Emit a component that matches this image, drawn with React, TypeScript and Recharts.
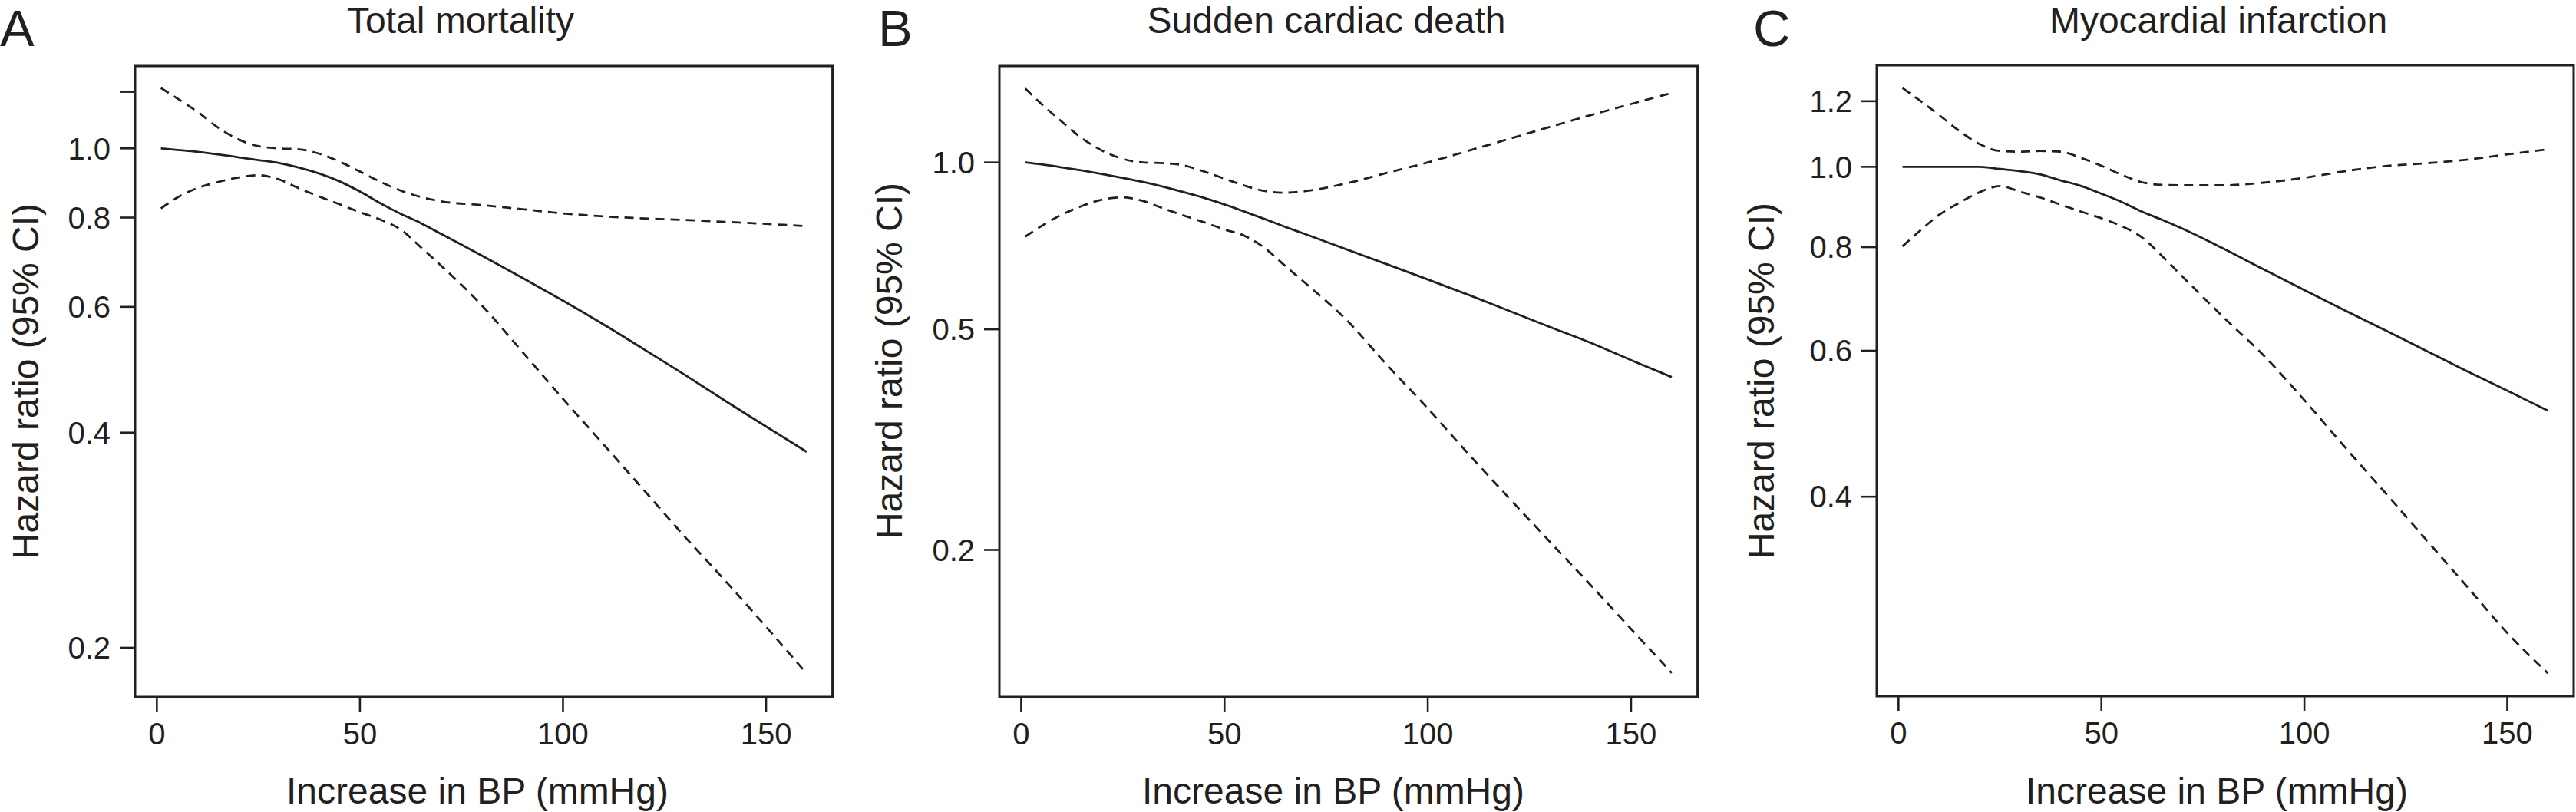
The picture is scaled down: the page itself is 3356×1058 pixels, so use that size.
import React from 'react';
import { LineChart, Line, XAxis, YAxis, ReferenceArea } from 'recharts';

// ---- data ----
const bpIncrease = [1, 5, 10, 15, 20, 25, 30, 35, 40, 45, 50, 55, 60, 65, 70, 80, 90, 100, 110, 120, 130, 140, 150, 160];

const totalHR = [1.0, 0.995, 0.989, 0.981, 0.972, 0.963, 0.954, 0.94, 0.922, 0.899, 0.87, 0.838, 0.81, 0.786, 0.759, 0.708, 0.659, 0.612, 0.567, 0.523, 0.482, 0.443, 0.408, 0.376];
const totalLower = [0.824, 0.853, 0.88, 0.897, 0.91, 0.917, 0.905, 0.879, 0.856, 0.835, 0.814, 0.795, 0.77, 0.727, 0.685, 0.603, 0.519, 0.446, 0.385, 0.332, 0.286, 0.248, 0.214, 0.184];
const totalUpper = [1.215, 1.175, 1.125, 1.07, 1.03, 1.007, 1.0, 0.997, 0.983, 0.958, 0.928, 0.898, 0.873, 0.855, 0.843, 0.833, 0.822, 0.811, 0.803, 0.798, 0.794, 0.789, 0.784, 0.778];

const suddenHR = [1.0, 0.992, 0.98, 0.967, 0.953, 0.938, 0.922, 0.904, 0.884, 0.863, 0.84, 0.815, 0.79, 0.765, 0.742, 0.697, 0.655, 0.615, 0.577, 0.54, 0.505, 0.473, 0.44, 0.41];
const suddenLower = [0.735, 0.768, 0.805, 0.835, 0.857, 0.865, 0.852, 0.826, 0.802, 0.78, 0.757, 0.737, 0.7, 0.65, 0.605, 0.52, 0.431, 0.36, 0.298, 0.248, 0.207, 0.173, 0.144, 0.12];
const suddenUpper = [1.36, 1.275, 1.185, 1.105, 1.05, 1.015, 1.0, 0.997, 0.988, 0.963, 0.935, 0.908, 0.888, 0.882, 0.888, 0.917, 0.958, 1.0, 1.05, 1.103, 1.159, 1.217, 1.275, 1.335];

const miHR = [1.0, 1.0, 1.0, 1.0, 1.0, 0.994, 0.988, 0.979, 0.963, 0.948, 0.928, 0.907, 0.883, 0.863, 0.842, 0.797, 0.752, 0.71, 0.671, 0.635, 0.6, 0.567, 0.537, 0.508];
const miLower = [0.802, 0.835, 0.875, 0.905, 0.932, 0.948, 0.933, 0.918, 0.9, 0.883, 0.867, 0.848, 0.822, 0.78, 0.737, 0.659, 0.592, 0.523, 0.459, 0.404, 0.355, 0.312, 0.274, 0.245];
const miUpper = [1.245, 1.205, 1.155, 1.105, 1.065, 1.045, 1.043, 1.045, 1.043, 1.025, 1.003, 0.978, 0.958, 0.951, 0.95, 0.95, 0.957, 0.97, 0.988, 1.002, 1.01, 1.02, 1.035, 1.05];

const xTicks = [0, 50, 100, 150];
const totalTicks = [0.2, 0.4, 0.6, 0.8, 1.0, 1.2];
const totalTickLabels = ['0.2', '0.4', '0.6', '0.8', '1.0', ''];
const suddenTicks = [0.2, 0.5, 1.0];
const suddenTickLabels = ['0.2', '0.5', '1.0'];
const miTicks = [0.4, 0.6, 0.8, 1.0, 1.2];
const miTickLabels = ['0.4', '0.6', '0.8', '1.0', '1.2'];

const panelLetters = ['A', 'B', 'C'];
const panelTitles = ['Total mortality', 'Sudden cardiac death', 'Myocardial infarction'];
const yLabel = 'Hazard ratio (95% CI)';
const xLabel = 'Increase in BP (mmHg)';

// ---- styling ----
const INK = '#231f20';
const FONT = '"Liberation Sans", Arial, Helvetica, sans-serif';
const X_DOMAIN: [number, number] = [-5.36, 166.36];

function rows(hr: number[], lo: number[], hi: number[]) {
  return bpIncrease.map((x, i) => ({ x, hr: hr[i], lo: lo[i], hi: hi[i] }));
}

type PanelProps = {
  data: { x: number; hr: number; lo: number; hi: number }[];
  yDomain: [number, number];
  ticks: number[];
  tickLabels: string[];
  left: number;
  width: number;
  yAxisWidth: number;
  top: number;
  bottom: number;
  right: number;
};

function Panel(p: PanelProps) {
  const H = 1058;
  const xAxisH = 60;
  const fmt = (v: number) => {
    const i = p.ticks.findIndex((t) => Math.abs(t - v) < 1e-6);
    return i >= 0 ? p.tickLabels[i] : '';
  };
  return (
    <div style={{ position: 'absolute', left: p.left, top: 0, width: p.width, height: H }}>
      <LineChart
        width={p.width}
        height={H}
        data={p.data}
        margin={{ top: p.top, left: 0, right: p.right, bottom: H - p.bottom - xAxisH }}
      >
        <XAxis
          type="number"
          dataKey="x"
          domain={X_DOMAIN}
          ticks={xTicks}
          allowDataOverflow
          height={xAxisH}
          axisLine={false}
          tickSize={20}
          tickMargin={14}
          tickLine={{ stroke: INK, strokeWidth: 2.6 }}
          tick={{ fontSize: 40, fill: INK, fontFamily: FONT }}
        />
        <YAxis
          type="number"
          scale="log"
          domain={p.yDomain}
          ticks={p.ticks}
          allowDataOverflow
          width={p.yAxisWidth}
          axisLine={false}
          tickSize={20}
          tickMargin={12}
          tickFormatter={fmt}
          tickLine={{ stroke: INK, strokeWidth: 2.6 }}
          tick={{ fontSize: 40, fill: INK, fontFamily: FONT }}
        />
        <ReferenceArea
          x1={X_DOMAIN[0]}
          x2={X_DOMAIN[1]}
          y1={p.yDomain[0]}
          y2={p.yDomain[1]}
          fill="none"
          fillOpacity={0}
          stroke={INK}
          strokeWidth={3}
          ifOverflow="visible"
        />
        <Line type="monotone" dataKey="hi" stroke={INK} strokeWidth={2.8} strokeDasharray="12 8" dot={false} activeDot={false} isAnimationActive={false} />
        <Line type="monotone" dataKey="hr" stroke={INK} strokeWidth={2.8} dot={false} activeDot={false} isAnimationActive={false} />
        <Line type="monotone" dataKey="lo" stroke={INK} strokeWidth={2.8} strokeDasharray="12 8" dot={false} activeDot={false} isAnimationActive={false} />
      </LineChart>
    </div>
  );
}

export default function App() {
  const letterX = [0, 1144, 2284];
  const titleX = [600, 1728, 2890];
  const yLabX = [50, 1175, 2311];
  const yLabY = [497, 470, 496];
  const xLabX = [622, 1737, 2888];
  return (
    <div style={{ position: 'absolute', left: 0, top: 0, width: 3356, height: 1058, background: '#fff', overflow: 'hidden' }}>
      <Panel
        data={rows(totalHR, totalLower, totalUpper)}
        yDomain={[0.1707, 1.304]}
        ticks={totalTicks}
        tickLabels={totalTickLabels}
        left={0}
        width={1100}
        yAxisWidth={176}
        top={86}
        bottom={908}
        right={15.4}
      />
      <Panel
        data={rows(suddenHR, suddenLower, suddenUpper)}
        yDomain={[0.1086, 1.493]}
        ticks={suddenTicks}
        tickLabels={suddenTickLabels}
        left={1200}
        width={1030}
        yAxisWidth={102}
        top={86}
        bottom={908}
        right={18.4}
      />
      <Panel
        data={rows(miHR, miLower, miUpper)}
        yDomain={[0.2299, 1.326]}
        ticks={miTicks}
        tickLabels={miTickLabels}
        left={2340}
        width={1016}
        yAxisWidth={105}
        top={85}
        bottom={907}
        right={3}
      />
      <svg width={3356} height={1058} style={{ position: 'absolute', left: 0, top: 0, pointerEvents: 'none' }}>
        <g fontFamily={FONT} fill={INK}>
          {panelLetters.map((l, i) => (
            <text key={'l' + i} x={letterX[i]} y={60} fontSize={67}>{l}</text>
          ))}
          {panelTitles.map((t, i) => (
            <text key={'t' + i} x={titleX[i]} y={43} fontSize={48} textAnchor="middle">{t}</text>
          ))}
          {panelTitles.map((_, i) => (
            <text key={'y' + i} x={0} y={0} fontSize={48} textAnchor="middle" transform={`translate(${yLabX[i]}, ${yLabY[i]}) rotate(-90)`}>{yLabel}</text>
          ))}
          {panelTitles.map((_, i) => (
            <text key={'x' + i} x={xLabX[i]} y={1047} fontSize={48} textAnchor="middle">{xLabel}</text>
          ))}
        </g>
      </svg>
    </div>
  );
}
